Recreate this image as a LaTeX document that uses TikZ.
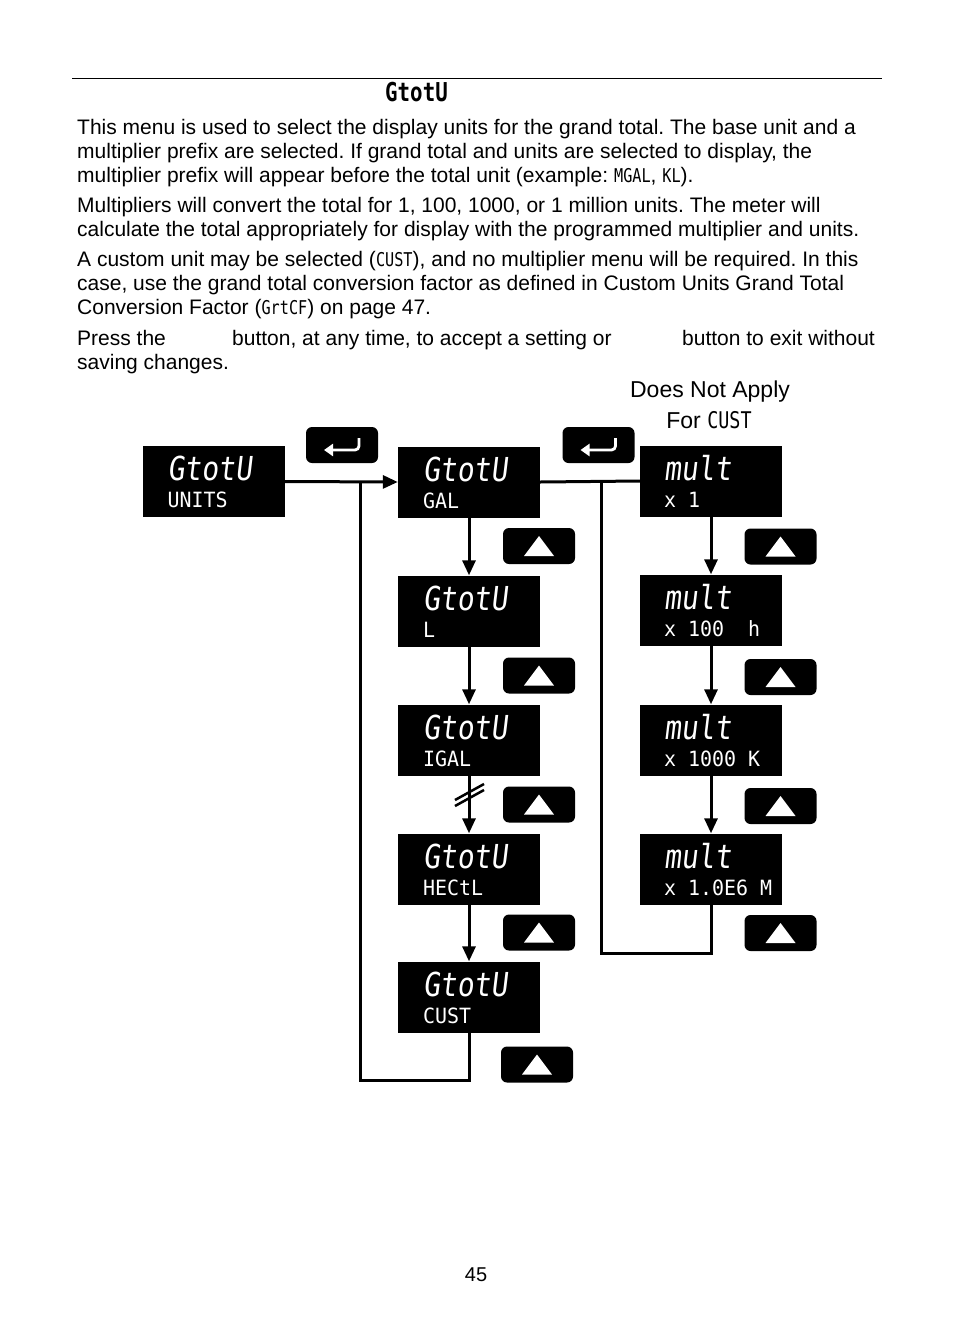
\documentclass[tikz,border=0pt]{standalone}
\usepackage{fontspec}
\setmainfont{Liberation Sans}
\newfontfamily\segtop[FakeStretch=0.85,FakeSlant=0.12]{DejaVu Sans Mono}
\newfontfamily\segbot[FakeStretch=0.95]{DejaVu Sans Mono}
\newfontfamily\seginl[FakeStretch=0.8]{DejaVu Sans Mono}
\usetikzlibrary{arrows.meta}
\newcommand{\sg}[1]{{\seginl\fontsize{19}{19}\selectfont #1}}
\frenchspacing
\begin{document}
\begin{tikzpicture}[x=1pt,y=-1pt,
  disp/.style={fill=black,minimum width=142pt,minimum height=71pt,inner sep=0pt},
  btn/.style={fill=black,rounded corners=6pt,minimum width=72pt,minimum height=36pt,inner sep=0pt},
  conn/.style={line width=3pt},
  arr/.style={line width=3pt,-{Triangle[width=13pt,length=15pt]}},
  body/.style={anchor=base west,inner sep=0pt,font=\fontsize{21}{24}\selectfont},
  toptxt/.style={anchor=base west,inner sep=0pt,text height=24pt,text depth=0pt,text=white,font=\segtop\fontsize{33}{33}\selectfont},
  bottxt/.style={anchor=base west,inner sep=0pt,text height=15pt,text depth=0pt,text=white,font=\segbot\fontsize{21}{21}\selectfont}]
\useasboundingbox (0,0) rectangle (954,1336);
\fill[white] (0,0) rectangle (954,1336);

% header
\draw[line width=1pt] (72,78) -- (882,78);
\node[anchor=west,inner sep=0pt,font=\seginl\bfseries\fontsize{26}{26}\selectfont] (hdr) at (385,92) {GtotU};

% paragraphs
\node[body] (p1) at (77,134) {This menu is used to select the display units for the grand total. The base unit and a};
\node[body] (p2) at (77,158) {multiplier prefix are selected. If grand total and units are selected to display, the};
\node[body] (p3) at (77,182) {multiplier prefix will appear before the total unit (example: \sg{MGAL}, \sg{KL}).};
\node[body] (p4) at (77,212) {Multipliers will convert the total for 1, 100, 1000, or 1 million units. The meter will};
\node[body] (p5) at (77,236) {calculate the total appropriately for display with the programmed multiplier and units.};
\node[body] (p6) at (77,266) {A custom unit may be selected (\sg{CUST}), and no multiplier menu will be required. In this};
\node[body] (p7) at (77,290) {case, use the grand total conversion factor as defined in Custom Units Grand Total};
\node[body] (p8) at (77,314) {Conversion Factor (\sg{GrtCF}) on page 47.};
\node[body] (p9a) at (77,345) {Press the};
\node[body] (p9b) at (232,345) {button, at any time, to accept a setting or};
\node[body] (p9c) at (682,345) {button to exit without};
\node[body] (p10) at (77,369) {saving changes.};

\node[inner sep=0pt,font=\fontsize{23}{23}\selectfont] (dna) at (710,392) {Does Not Apply};
\node[inner sep=0pt,font=\fontsize{23}{23}\selectfont] (dnb) at (709,420) {For {\seginl\fontsize{23}{23}\selectfont CUST}};

% display boxes
\node[disp] (units) at (213.5,481.5) {};
\node[disp] (gal)   at (469,482) {};
\node[disp] (l)     at (469,611) {};
\node[disp] (igal)  at (469,740) {};
\node[disp] (hectl) at (469,869) {};
\node[disp] (cust)  at (469,997) {};
\node[disp] (m1)    at (711,481) {};
\node[disp] (m100)  at (711,610) {};
\node[disp] (m1000) at (711,740) {};
\node[disp] (m1e6)  at (711,869) {};

\foreach \n/\b in {units/UNITS,gal/GAL,l/L,igal/IGAL,hectl/HECtL,cust/CUST}{
  \node[toptxt] at ([xshift=25pt,yshift=1pt]\n.west) {GtotU};
  \node[bottxt] at ([xshift=25pt,yshift=-26pt]\n.west) {\b};
}
\foreach \n/\b in {m1/{x 1},m100/{x 100\ \ h},m1000/{x 1000 K},m1e6/{x 1.0E6 M}}{
  \node[toptxt] at ([xshift=24pt,yshift=1pt]\n.west) {mult};
  \node[bottxt] at ([xshift=24pt,yshift=-26pt]\n.west) {\b};
}

% enter buttons
\foreach \n/\x in {e1/342,e2/598.5}{
  \node[btn] (\n) at (\x,445) {};
  \draw[white,line width=2.8pt,rounded corners=4pt,-{Triangle[width=12pt,length=9pt]}]
    ([xshift=17pt,yshift=7pt]\n.center) -- ([xshift=17pt,yshift=-5pt]\n.center)
    -- ([xshift=-18pt,yshift=-5pt]\n.center);
}

% up buttons
\foreach \n/\x/\y in {u1/539/546,u2/539/675.5,u3/539/804.5,u4/539/932.5,u5/537/1064.5,
                      u6/780.5/546.5,u7/780.5/677,u8/780.5/806,u9/780.5/933}{
  \node[btn] (\n) at (\x,\y) {};
  \fill[white] ([xshift=-15pt,yshift=-10pt]\n.center) -- ([xshift=15pt,yshift=-10pt]\n.center)
     -- ([yshift=10pt]\n.center) -- cycle;
}

% connectors
\draw[arr] (units.east) -- (gal.west);
\draw[conn] (gal.east) -- (m1.west);
\draw[arr] (gal.south) -- (l.north);
\draw[arr] (l.south) -- (igal.north);
\draw[arr] (igal.south) -- (hectl.north);
\draw[arr] (hectl.south) -- (cust.north);
\draw[arr] (m1.south) -- (m100.north);
\draw[arr] (m100.south) -- (m1000.north);
\draw[arr] (m1000.south) -- (m1e6.north);

\coordinate (jl) at (360,481.5);
\coordinate (bl) at (360,1080);
\coordinate (br) at (469,1080);
\draw[conn,line join=miter] (cust.south) -- (br) -- (bl) -- (jl);
\coordinate (jr) at (601,482);
\coordinate (br2) at (601,953);
\coordinate (br3) at (711,953);
\draw[conn,line join=miter] (m1e6.south) -- (br3) -- (br2) -- (jr);

% break symbol
\draw[line width=2.5pt] (455,800) -- (484,784);
\draw[line width=2.5pt] (455,806) -- (484,790);

\node[inner sep=0pt,font=\fontsize{20}{20}\selectfont] (pg) at (476,1275) {45};
\end{tikzpicture}
\end{document}
